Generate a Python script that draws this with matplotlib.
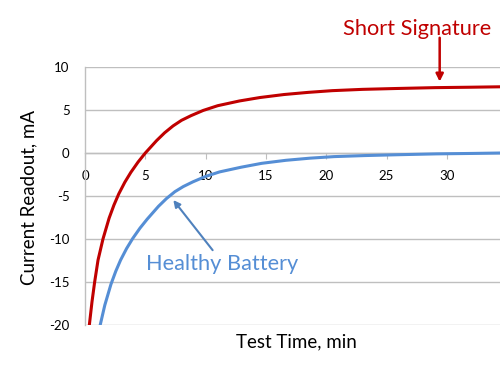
import matplotlib
matplotlib.use("Agg")
import matplotlib.pyplot as plt

plt.rcParams['font.family'] = ['Lato', 'DejaVu Sans']

# Data
short_t = [0.36, 0.58, 0.8, 1.08, 1.49, 2.0, 2.4, 2.8, 3.3, 3.8, 4.4, 5.0, 5.94,
           6.6, 7.3, 8.0, 8.8, 9.8, 11.0, 12.8, 14.5, 16.5, 18.5, 20.5, 23.0,
           25.8, 29.0, 32.0, 34.5]
short_y = [-20, -17.3, -15, -12.45, -10, -7.57, -6.05, -4.75, -3.4, -2.25, -1.05,
           0, 1.45, 2.35, 3.15, 3.8, 4.35, 4.95, 5.5, 6.05, 6.45, 6.8, 7.05,
           7.25, 7.4, 7.5, 7.6, 7.65, 7.7]

healthy_t = [1.26, 1.64, 2.15, 2.55, 2.95, 3.45, 3.95, 4.55, 5.15, 6.09, 6.75,
             7.45, 8.15, 8.95, 9.95, 11.15, 12.95, 14.65, 16.65, 18.65, 20.65,
             23.15, 25.95, 29.15, 32.15, 34.5]
healthy_y = [-20, -17.7, -15.27, -13.75, -12.45, -11.1, -9.95, -8.75, -7.7,
             -6.2, -5.3, -4.5, -3.9, -3.35, -2.75, -2.2, -1.65, -1.2, -0.85,
             -0.6, -0.42, -0.3, -0.2, -0.1, -0.05, 0.0]

x_ticks = [0, 5, 10, 15, 20, 25, 30]
y_ticks = [-20, -15, -10, -5, 0, 5, 10]

RED = '#C00000'
BLUE = '#558ED5'
BLUE_ARROW = '#4F81BD'
GRID = '#BFBFBF'

fig = plt.figure(figsize=(5, 3.75), dpi=100)
ax = fig.add_axes([85 / 500, 1 - 325 / 375, 1 - 85 / 500, (325 - 67) / 375])

ax.set_xlim(0, 34.4)
ax.set_ylim(-20, 10)

for yv in y_ticks:
    ax.axhline(yv, color=GRID, lw=1.0, zorder=0)

ax.plot(short_t, short_y, color=RED, lw=2.2, zorder=3,
        solid_joinstyle='round')
ax.plot(healthy_t, healthy_y, color=BLUE, lw=2.2, zorder=3,
        solid_joinstyle='round')

for s in ['top', 'right']:
    ax.spines[s].set_visible(False)
ax.spines['left'].set_color(GRID)
ax.spines['left'].set_linewidth(1.0)
ax.spines['bottom'].set_position(('data', 0))
ax.spines['bottom'].set_color(GRID)
ax.spines['bottom'].set_linewidth(1.0)

ax.set_xticks(x_ticks)
ax.set_xticklabels([str(v) for v in x_ticks])
ax.set_yticks(y_ticks)
ax.set_yticklabels([str(v) for v in y_ticks])
ax.tick_params(axis='x', direction='out', length=4, color=GRID, pad=8,
               labelsize=9.5, labelcolor='#000000')
ax.tick_params(axis='y', length=0, pad=11, labelsize=9.5, labelcolor='#000000')

fig.text(296 / 500, 1 - 347.5 / 375, 'Test Time, min', ha='center',
         va='baseline', fontsize=13.5, color='#000000')
fig.text(28.5 / 500, 1 - 197.5 / 375, 'Current Readout, mA', ha='center',
         va='center', rotation=90, fontsize=13.5, color='#000000')

ax.annotate('', xy=(29.4, 8.3), xytext=(29.4, 13.4),
            arrowprops=dict(arrowstyle='-|>', color=RED, lw=1.8,
                            mutation_scale=11, shrinkA=0, shrinkB=0),
            annotation_clip=False)
ax.text(27.5, 13.75, 'Short Signature', ha='center', va='baseline',
        fontsize=15.7, color=RED, clip_on=False)

ax.annotate('', xy=(7.32, -5.47), xytext=(10.58, -11.3),
            arrowprops=dict(arrowstyle='-|>', color=BLUE_ARROW, lw=1.5,
                            mutation_scale=10, shrinkA=0, shrinkB=0),
            annotation_clip=False)
ax.text(11.4, -13.55, 'Healthy Battery', ha='center', va='baseline',
        fontsize=15.7, color=BLUE)

fig.savefig('out.png', dpi=100)
